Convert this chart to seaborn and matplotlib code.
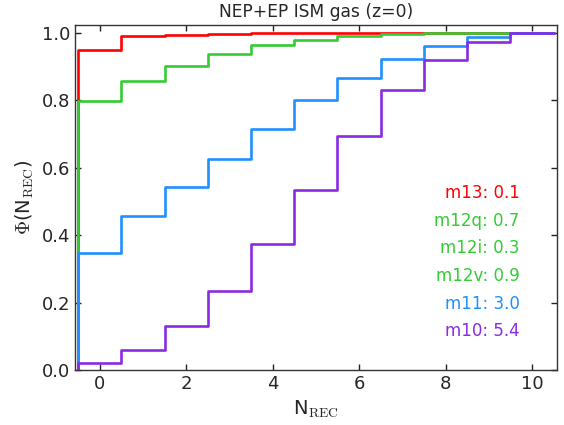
import numpy as np
import pandas as pd
import seaborn as sns
import matplotlib.pyplot as plt

# N_REC bins (step edges) and cumulative fractions
n_rec = [-0.5, 0.5, 1.5, 2.5, 3.5, 4.5, 5.5, 6.5, 7.5, 8.5, 9.5, 10.5]
phi_m13 = [0.0, 0.948, 0.990, 0.995, 0.998, 1.0, 1.0, 1.0, 1.0, 1.0, 1.0, 1.0]
phi_m12 = [0.0, 0.797, 0.856, 0.902, 0.938, 0.964, 0.980, 0.990, 0.996, 1.0, 1.0, 1.0]
phi_m11 = [0.0, 0.348, 0.458, 0.543, 0.625, 0.716, 0.800, 0.866, 0.921, 0.962, 0.987, 1.0]
phi_m10 = [0.0, 0.020, 0.059, 0.131, 0.235, 0.375, 0.535, 0.694, 0.830, 0.919, 0.973, 1.0]

labels = ['m13: 0.1', 'm12q: 0.7', 'm12i: 0.3', 'm12v: 0.9', 'm11: 3.0', 'm10: 5.4']
label_colors = ['#ff0000', '#33cc33', '#33cc33', '#33cc33', '#1e90ff', '#8a2be2']

sns.set_style('ticks')
plt.rcParams['font.family'] = ['DejaVu Sans']
plt.rcParams['mathtext.fontset'] = 'cm'

fig, ax = plt.subplots(figsize=(5.64, 4.25), dpi=100)
fig.subplots_adjust(left=0.133, right=0.987, top=0.941, bottom=0.129)

# drawn in this order so the later ones sit on top
curves = [(phi_m13, '#ff0000'), (phi_m12, '#33cc33'), (phi_m11, '#1e90ff'), (phi_m10, '#8a2be2')]
for phi, col in curves:
    df = pd.DataFrame({'n': n_rec, 'phi': phi})
    sns.lineplot(data=df, x='n', y='phi', ax=ax, color=col, lw=1.9,
                 drawstyle='steps-pre', estimator=None, sort=False)

ypos = 0.525
for lab, col in zip(labels, label_colors):
    ax.text(9.71, ypos, lab, color=col, fontsize=12, ha='right', va='center')
    ypos -= 0.082

ax.set_xlim(-0.57, 10.57)
ax.set_ylim(0, 1.023)
ax.set_xticks(np.arange(0, 11, 2))
ax.set_yticks(np.arange(0, 1.01, 0.2))
ax.tick_params(direction='in', top=True, right=True, labelsize=13, length=4,
               width=1, color='#222222')
for sp in ax.spines.values():
    sp.set_color('#333333')
    sp.set_linewidth(1.0)
ax.set_xlabel(r'N$_{\rm REC}$', fontsize=14)
ax.set_ylabel(r'$\Phi$(N$_{\rm REC}$)', fontsize=14)
ax.set_title('NEP+EP ISM gas (z=0)', fontsize=12.3)

fig.savefig('out.png', dpi=100)
